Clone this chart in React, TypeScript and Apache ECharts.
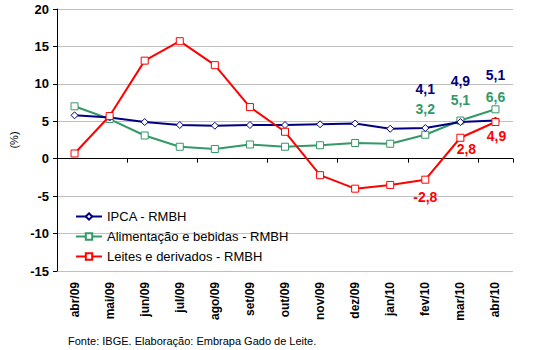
import React, { useEffect, useRef } from "react";
import * as echarts from "echarts";

const categories = ["abr/09", "mai/09", "jun/09", "jul/09", "ago/09", "set/09", "out/09", "nov/09", "dez/09", "jan/10", "fev/10", "mar/10", "abr/10"];
const ipca = [5.8, 5.5, 4.9, 4.5, 4.4, 4.5, 4.5, 4.6, 4.7, 4.0, 4.1, 4.9, 5.1];
const alimentacao = [7.0, 5.3, 3.1, 1.6, 1.3, 1.9, 1.6, 1.8, 2.1, 2.0, 3.2, 5.1, 6.6];
const leites = [0.7, 5.7, 13.1, 15.7, 12.5, 6.9, 3.6, -2.2, -4.0, -3.5, -2.8, 2.8, 4.9];
const yTicks = [-15, -10, -5, 0, 5, 10, 15, 20];

// label offsets for labelled points (index -> [dx, dy])
const ipcaLabels: Record<number, number[]> = { 10: [0, -39], 11: [0, -41], 12: [0, -46] };
const alimLabels: Record<number, number[]> = { 10: [0, -26], 11: [0, -21], 12: [0, -12] };
const leiteLabels: Record<number, number[]> = { 10: [0, 17], 11: [6, 11], 12: [1, 14] };

const fmt = (v: number) => v.toFixed(1).replace(".", ",");

function build(values: number[], labels: Record<number, number[]>, color: string) {
  return values.map((v, i) => {
    const off = labels[i];
    if (!off) return v;
    return {
      value: v,
      label: {
        show: true,
        position: "inside",
        offset: off,
        formatter: () => fmt(v),
        color,
        fontSize: 14,
        fontWeight: "bold",
        fontFamily: "Arial, Liberation Sans, sans-serif",
      },
    };
  });
}

export default function App() {
  const ref = useRef<HTMLDivElement>(null);
  useEffect(() => {
    if (!ref.current) return;
    const chart = echarts.init(ref.current, null, { renderer: "svg" });
    const font = "Arial, Liberation Sans, sans-serif";
    chart.setOption({
      animation: false,
      backgroundColor: "#ffffff",
      grid: { left: 53, right: 28, top: 9, bottom: 79, containLabel: false },
      legend: {
        orient: "vertical",
        left: 70,
        top: 205,
        itemGap: 7,
        itemWidth: 26,
        itemHeight: 8,
        textStyle: { fontFamily: font, fontSize: 13, color: "#000" },
        data: ["IPCA - RMBH", "Alimentação e bebidas - RMBH", "Leites e derivados - RMBH"],
      },
      xAxis: [
        {
          type: "category",
          data: categories,
          boundaryGap: true,
          axisLine: { onZero: true, lineStyle: { color: "#000", width: 1 } },
          axisTick: { show: true, length: 4, lineStyle: { color: "#000" } },
          axisLabel: { show: false },
          splitLine: { show: false },
        },
        {
          type: "category",
          data: categories,
          position: "bottom",
          boundaryGap: true,
          axisLine: { show: false },
          axisTick: { show: false },
          axisLabel: {
            rotate: 90,
            margin: 11,
            fontFamily: font,
            fontSize: 12,
            fontWeight: "bold",
            color: "#000",
          },
        },
      ],
      yAxis: {
        type: "value",
        min: -15,
        max: 20,
        interval: 5,
        name: "(%)",
        nameLocation: "middle",
        nameGap: 38,
        nameRotate: 90,
        nameTextStyle: { fontFamily: font, fontSize: 11, color: "#000" },
        axisLine: { show: true, lineStyle: { color: "#000" } },
        axisTick: { show: true, length: 4, lineStyle: { color: "#000" } },
        axisLabel: {
          fontFamily: font,
          fontSize: 13,
          fontWeight: "bold",
          color: "#000",
          margin: 8,
          formatter: (v: number) => (yTicks.includes(v) ? String(v) : ""),
        },
        splitLine: { show: true, lineStyle: { color: "#c0c0c0", width: 1 } },
      },
      series: [
        {
          name: "IPCA - RMBH",
          type: "line",
          xAxisIndex: 0,
          data: build(ipca, ipcaLabels, "#000080"),
          symbol: "diamond",
          symbolSize: 7,
          itemStyle: { color: "#ffffff", borderColor: "#000080", borderWidth: 1 },
          lineStyle: { color: "#000080", width: 2 },
          z: 3,
        },
        {
          name: "Alimentação e bebidas - RMBH",
          type: "line",
          xAxisIndex: 0,
          data: build(alimentacao, alimLabels, "#339966"),
          symbol: "rect",
          symbolSize: 7,
          itemStyle: { color: "#ffffff", borderColor: "#339966", borderWidth: 1 },
          lineStyle: { color: "#339966", width: 2 },
          z: 2,
        },
        {
          name: "Leites e derivados - RMBH",
          type: "line",
          xAxisIndex: 0,
          data: build(leites, leiteLabels, "#ff0000"),
          symbol: "rect",
          symbolSize: 7,
          itemStyle: { color: "#ffffff", borderColor: "#ff0000", borderWidth: 1 },
          lineStyle: { color: "#ff0000", width: 2 },
          z: 4,
        },
      ],
      graphic: [
        {
          type: "text",
          left: 68,
          top: 335,
          style: {
            text: "Fonte: IBGE. Elaboração: Embrapa Gado de Leite.",
            font: "11px Arial, Liberation Sans, sans-serif",
            fill: "#000",
          },
        },
      ],
    });
    return () => chart.dispose();
  }, []);
  return <div ref={ref} style={{ position: "fixed", left: 0, top: 0, width: 541, height: 350 }} />;
}
